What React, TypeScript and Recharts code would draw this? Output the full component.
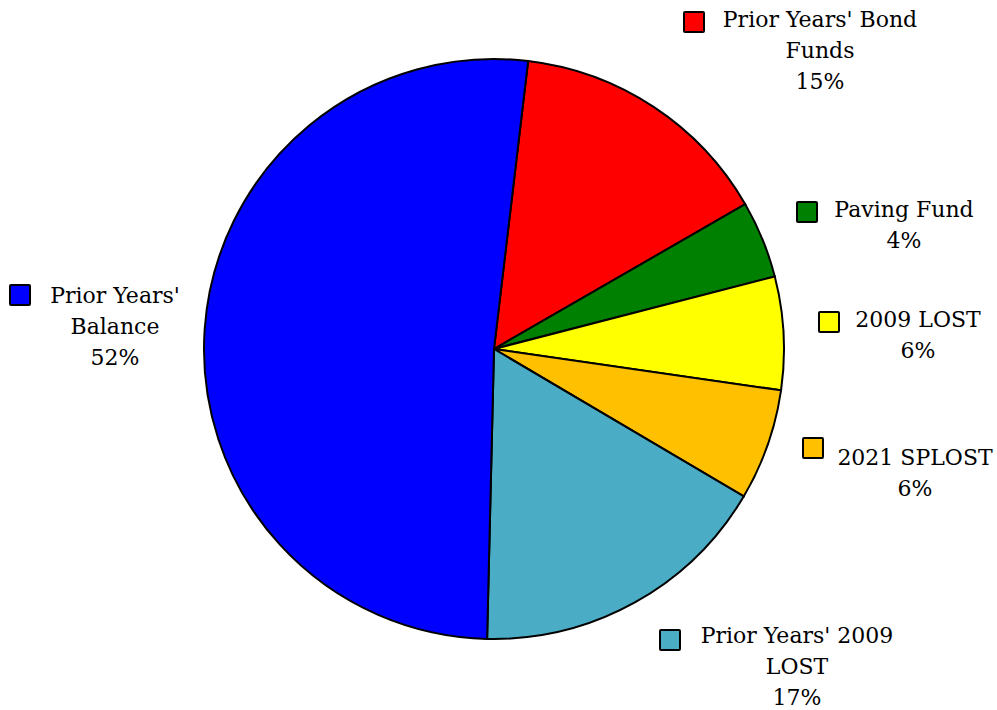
import { PieChart, Pie, Cell } from "recharts";

// slices listed clockwise starting just right of 12 o'clock
const categories = [
  "Prior Years' Bond\nFunds",
  "Paving Fund",
  "2009 LOST",
  "2021 SPLOST",
  "Prior Years' 2009\nLOST",
  "Prior Years'\nBalance",
];
const shares = [14.8, 4.3, 6.3, 6.2, 16.9, 51.5];
const colors = ["#FF0000", "#008000", "#FFFF00", "#FFC000", "#4BACC6", "#0000FF"];

// label anchor (text centre, first baseline) relative to pie centre, plus legend box offset
const labelLayout = [
  { x: 326, y: -322, mx: -136, my: -15 },
  { x: 410, y: -132, mx: -107, my: -15 },
  { x: 424, y: -22, mx: -99, my: -15 },
  { x: 421, y: 116, mx: -112, my: -27 },
  { x: 303, y: 294, mx: -137, my: -13 },
  { x: -379, y: -46, mx: -105, my: -18 },
];

const data = categories.map((name, i) => ({ name, value: shares[i] }));
const total = shares.reduce((a, b) => a + b, 0);

const renderLabel = (props: any) => {
  const { cx, cy, index } = props;
  const pos = labelLayout[index];
  const lx = cx + pos.x;
  const ly = cy + pos.y;
  const lines = [...categories[index].split("\n"), `${Math.round((shares[index] / total) * 100)}%`];
  return (
    <g key={`lbl-${index}`}>
      <rect
        x={lx + pos.mx}
        y={ly + pos.my}
        width={20}
        height={20}
        fill={colors[index]}
        stroke="#000"
        strokeWidth={2}
        rx={1}
      />
      <text
        x={lx}
        y={ly}
        textAnchor="middle"
        fill="#000"
        style={{ fontFamily: "'DejaVu Serif', serif", fontSize: 22 }}
      >
        {lines.map((t, i) => (
          <tspan key={i} x={lx} dy={i === 0 ? 0 : 31}>
            {t}
          </tspan>
        ))}
      </text>
    </g>
  );
};

const App = () => {
  return (
    <div style={{ position: "absolute", left: 0, top: 0, width: 997, height: 710, background: "#fff" }}>
      <PieChart width={997} height={710} margin={{ top: 0, right: 0, bottom: 0, left: 0 }}>
        <Pie
          data={data}
          dataKey="value"
          nameKey="name"
          cx={494}
          cy={349}
          outerRadius={290}
          startAngle={83.24}
          endAngle={83.24 - 360}
          stroke="#000"
          strokeWidth={2}
          label={renderLabel}
          labelLine={false}
          isAnimationActive={false}
        >
          {data.map((d, i) => (
            <Cell key={d.name} fill={colors[i]} />
          ))}
        </Pie>
      </PieChart>
    </div>
  );
};

export default App;
